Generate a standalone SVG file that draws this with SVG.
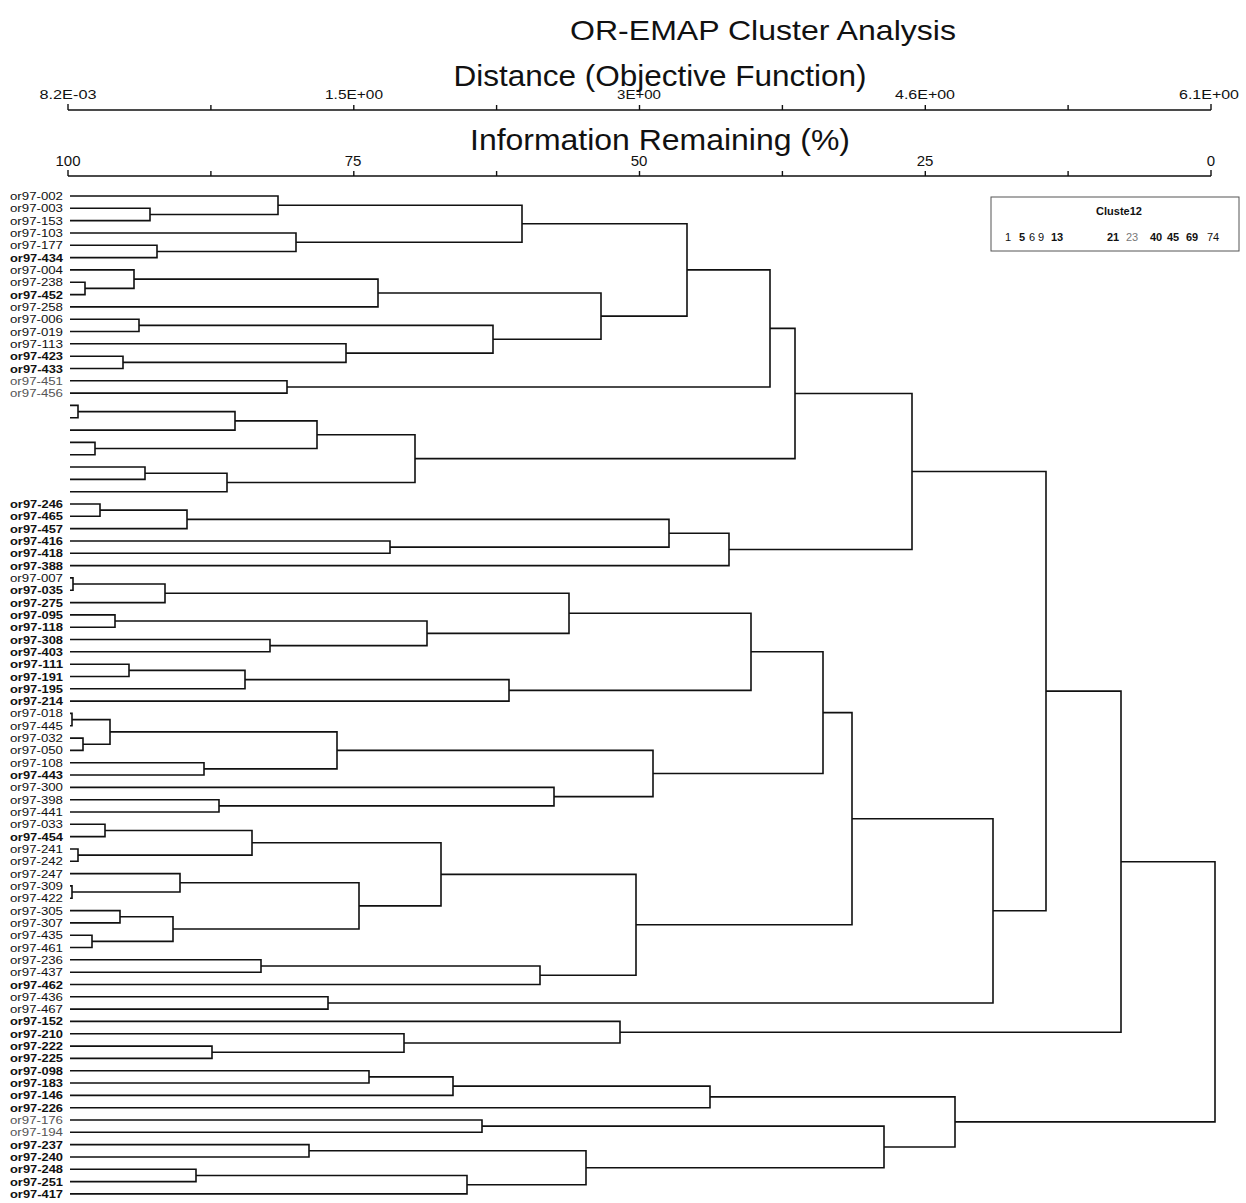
<svg xmlns="http://www.w3.org/2000/svg" width="1246" height="1203" viewBox="0 0 1246 1203">
<style>
  text { font-family: "Liberation Sans", Arial, sans-serif; fill: #111; }
  .title { font-size: 28px; text-anchor: middle; }
  .axtitle { font-size: 30px; text-anchor: middle; }
  .tick { font-size: 13px; text-anchor: middle; }
  .pct { font-size: 15px; text-anchor: middle; }
  .leaf text { font-size: 11px; text-anchor: end; }
  .leaf.b text { font-weight: bold; }
  .leaf.l text { fill: #555; }
  .axis { stroke: #111; stroke-width: 1.4; fill: none; }
  #connectors path { stroke: #111; stroke-width: 1.6; fill: none; stroke-linejoin: miter; }
  .lg { font-size: 11px; text-anchor: middle; }
  .lg.b { font-weight: bold; }
  .lg.l { fill: #777; }
</style>

<!-- headings -->
<text class="title" x="763" y="40" textLength="386" lengthAdjust="spacingAndGlyphs">OR-EMAP Cluster Analysis</text>
<text class="axtitle" x="660" y="86" textLength="413" lengthAdjust="spacingAndGlyphs">Distance (Objective Function)</text>
<text class="axtitle" x="660" y="150" textLength="380" lengthAdjust="spacingAndGlyphs">Information Remaining (%)</text>

<!-- distance scale -->
<g id="axis-distance">
  <path class="axis" d="M68 110 H1211 M68 104 V110 M210.9 105 V110 M353.8 105 V110 M496.6 105 V110 M639.5 105 V110 M782.4 105 V110 M925.3 105 V110 M1068.1 105 V110 M1211 104 V110"/>
  <text class="tick" x="68" y="99" textLength="57" lengthAdjust="spacingAndGlyphs">8.2E-03</text>
  <text class="tick" x="354" y="99" textLength="58" lengthAdjust="spacingAndGlyphs">1.5E+00</text>
  <text class="tick" x="639" y="99" textLength="44" lengthAdjust="spacingAndGlyphs">3E+00</text>
  <text class="tick" x="925" y="99" textLength="60" lengthAdjust="spacingAndGlyphs">4.6E+00</text>
  <text class="tick" x="1209" y="99" textLength="60" lengthAdjust="spacingAndGlyphs">6.1E+00</text>
</g>

<!-- information remaining scale -->
<g id="axis-information">
  <path class="axis" d="M68 176 H1211 M68 170 V176 M210.9 171 V176 M353.8 171 V176 M496.6 171 V176 M639.5 171 V176 M782.4 171 V176 M925.3 171 V176 M1068.1 171 V176 M1211 170 V176"/>
  <text class="pct" x="68" y="166">100</text>
  <text class="pct" x="353" y="166">75</text>
  <text class="pct" x="639" y="166">50</text>
  <text class="pct" x="925" y="166">25</text>
  <text class="pct" x="1211" y="166">0</text>
</g>

<!-- legend -->
<g id="legend">
  <rect x="991" y="197" width="248" height="54" fill="#fff" stroke="#555" stroke-width="1"/>
  <text class="lg b" x="1119" y="215">Cluste12</text>
  <text class="lg" x="1008" y="241">1</text>
  <text class="lg b" x="1022" y="241">5</text>
  <text class="lg" x="1032" y="241">6</text>
  <text class="lg" x="1041" y="241">9</text>
  <text class="lg b" x="1057" y="241">13</text>
  <text class="lg b" x="1113" y="241">21</text>
  <text class="lg l" x="1132" y="241">23</text>
  <text class="lg b" x="1156" y="241">40</text>
  <text class="lg b" x="1173" y="241">45</text>
  <text class="lg b" x="1192" y="241">69</text>
  <text class="lg" x="1213" y="241">74</text>
</g>

<!-- leaf labels -->
<g id="leaves">
  <g id="leaf-or97-002" class="leaf"><text x="63" y="200" textLength="53" lengthAdjust="spacingAndGlyphs">or97-002</text></g>
  <g id="leaf-or97-003" class="leaf"><text x="63" y="212.3" textLength="53" lengthAdjust="spacingAndGlyphs">or97-003</text></g>
  <g id="leaf-or97-153" class="leaf"><text x="63" y="224.6" textLength="53" lengthAdjust="spacingAndGlyphs">or97-153</text></g>
  <g id="leaf-or97-103" class="leaf"><text x="63" y="237" textLength="53" lengthAdjust="spacingAndGlyphs">or97-103</text></g>
  <g id="leaf-or97-177" class="leaf"><text x="63" y="249.3" textLength="53" lengthAdjust="spacingAndGlyphs">or97-177</text></g>
  <g id="leaf-or97-434" class="leaf b"><text x="63" y="261.6" textLength="53" lengthAdjust="spacingAndGlyphs">or97-434</text></g>
  <g id="leaf-or97-004" class="leaf"><text x="63" y="273.9" textLength="53" lengthAdjust="spacingAndGlyphs">or97-004</text></g>
  <g id="leaf-or97-238" class="leaf"><text x="63" y="286.2" textLength="53" lengthAdjust="spacingAndGlyphs">or97-238</text></g>
  <g id="leaf-or97-452" class="leaf b"><text x="63" y="298.6" textLength="53" lengthAdjust="spacingAndGlyphs">or97-452</text></g>
  <g id="leaf-or97-258" class="leaf"><text x="63" y="310.9" textLength="53" lengthAdjust="spacingAndGlyphs">or97-258</text></g>
  <g id="leaf-or97-006" class="leaf"><text x="63" y="323.2" textLength="53" lengthAdjust="spacingAndGlyphs">or97-006</text></g>
  <g id="leaf-or97-019" class="leaf"><text x="63" y="335.5" textLength="53" lengthAdjust="spacingAndGlyphs">or97-019</text></g>
  <g id="leaf-or97-113" class="leaf"><text x="63" y="347.8" textLength="53" lengthAdjust="spacingAndGlyphs">or97-113</text></g>
  <g id="leaf-or97-423" class="leaf b"><text x="63" y="360.2" textLength="53" lengthAdjust="spacingAndGlyphs">or97-423</text></g>
  <g id="leaf-or97-433" class="leaf b"><text x="63" y="372.5" textLength="53" lengthAdjust="spacingAndGlyphs">or97-433</text></g>
  <g id="leaf-or97-451" class="leaf l"><text x="63" y="384.8" textLength="53" lengthAdjust="spacingAndGlyphs">or97-451</text></g>
  <g id="leaf-or97-456" class="leaf l"><text x="63" y="397.1" textLength="53" lengthAdjust="spacingAndGlyphs">or97-456</text></g>
  <g id="leaf-or97-246" class="leaf b"><text x="63" y="508" textLength="53" lengthAdjust="spacingAndGlyphs">or97-246</text></g>
  <g id="leaf-or97-465" class="leaf b"><text x="63" y="520.3" textLength="53" lengthAdjust="spacingAndGlyphs">or97-465</text></g>
  <g id="leaf-or97-457" class="leaf b"><text x="63" y="532.6" textLength="53" lengthAdjust="spacingAndGlyphs">or97-457</text></g>
  <g id="leaf-or97-416" class="leaf b"><text x="63" y="545" textLength="53" lengthAdjust="spacingAndGlyphs">or97-416</text></g>
  <g id="leaf-or97-418" class="leaf b"><text x="63" y="557.3" textLength="53" lengthAdjust="spacingAndGlyphs">or97-418</text></g>
  <g id="leaf-or97-388" class="leaf b"><text x="63" y="569.6" textLength="53" lengthAdjust="spacingAndGlyphs">or97-388</text></g>
  <g id="leaf-or97-007" class="leaf"><text x="63" y="581.9" textLength="53" lengthAdjust="spacingAndGlyphs">or97-007</text></g>
  <g id="leaf-or97-035" class="leaf b"><text x="63" y="594.2" textLength="53" lengthAdjust="spacingAndGlyphs">or97-035</text></g>
  <g id="leaf-or97-275" class="leaf b"><text x="63" y="606.6" textLength="53" lengthAdjust="spacingAndGlyphs">or97-275</text></g>
  <g id="leaf-or97-095" class="leaf b"><text x="63" y="618.9" textLength="53" lengthAdjust="spacingAndGlyphs">or97-095</text></g>
  <g id="leaf-or97-118" class="leaf b"><text x="63" y="631.2" textLength="53" lengthAdjust="spacingAndGlyphs">or97-118</text></g>
  <g id="leaf-or97-308" class="leaf b"><text x="63" y="643.5" textLength="53" lengthAdjust="spacingAndGlyphs">or97-308</text></g>
  <g id="leaf-or97-403" class="leaf b"><text x="63" y="655.8" textLength="53" lengthAdjust="spacingAndGlyphs">or97-403</text></g>
  <g id="leaf-or97-111" class="leaf b"><text x="63" y="668.2" textLength="53" lengthAdjust="spacingAndGlyphs">or97-111</text></g>
  <g id="leaf-or97-191" class="leaf b"><text x="63" y="680.5" textLength="53" lengthAdjust="spacingAndGlyphs">or97-191</text></g>
  <g id="leaf-or97-195" class="leaf b"><text x="63" y="692.8" textLength="53" lengthAdjust="spacingAndGlyphs">or97-195</text></g>
  <g id="leaf-or97-214" class="leaf b"><text x="63" y="705.1" textLength="53" lengthAdjust="spacingAndGlyphs">or97-214</text></g>
  <g id="leaf-or97-018" class="leaf"><text x="63" y="717.4" textLength="53" lengthAdjust="spacingAndGlyphs">or97-018</text></g>
  <g id="leaf-or97-445" class="leaf"><text x="63" y="729.8" textLength="53" lengthAdjust="spacingAndGlyphs">or97-445</text></g>
  <g id="leaf-or97-032" class="leaf"><text x="63" y="742.1" textLength="53" lengthAdjust="spacingAndGlyphs">or97-032</text></g>
  <g id="leaf-or97-050" class="leaf"><text x="63" y="754.4" textLength="53" lengthAdjust="spacingAndGlyphs">or97-050</text></g>
  <g id="leaf-or97-108" class="leaf"><text x="63" y="766.7" textLength="53" lengthAdjust="spacingAndGlyphs">or97-108</text></g>
  <g id="leaf-or97-443" class="leaf b"><text x="63" y="779" textLength="53" lengthAdjust="spacingAndGlyphs">or97-443</text></g>
  <g id="leaf-or97-300" class="leaf"><text x="63" y="791.4" textLength="53" lengthAdjust="spacingAndGlyphs">or97-300</text></g>
  <g id="leaf-or97-398" class="leaf"><text x="63" y="803.7" textLength="53" lengthAdjust="spacingAndGlyphs">or97-398</text></g>
  <g id="leaf-or97-441" class="leaf"><text x="63" y="816" textLength="53" lengthAdjust="spacingAndGlyphs">or97-441</text></g>
  <g id="leaf-or97-033" class="leaf"><text x="63" y="828.3" textLength="53" lengthAdjust="spacingAndGlyphs">or97-033</text></g>
  <g id="leaf-or97-454" class="leaf b"><text x="63" y="840.6" textLength="53" lengthAdjust="spacingAndGlyphs">or97-454</text></g>
  <g id="leaf-or97-241" class="leaf"><text x="63" y="853" textLength="53" lengthAdjust="spacingAndGlyphs">or97-241</text></g>
  <g id="leaf-or97-242" class="leaf"><text x="63" y="865.3" textLength="53" lengthAdjust="spacingAndGlyphs">or97-242</text></g>
  <g id="leaf-or97-247" class="leaf"><text x="63" y="877.6" textLength="53" lengthAdjust="spacingAndGlyphs">or97-247</text></g>
  <g id="leaf-or97-309" class="leaf"><text x="63" y="889.9" textLength="53" lengthAdjust="spacingAndGlyphs">or97-309</text></g>
  <g id="leaf-or97-422" class="leaf"><text x="63" y="902.2" textLength="53" lengthAdjust="spacingAndGlyphs">or97-422</text></g>
  <g id="leaf-or97-305" class="leaf"><text x="63" y="914.6" textLength="53" lengthAdjust="spacingAndGlyphs">or97-305</text></g>
  <g id="leaf-or97-307" class="leaf"><text x="63" y="926.9" textLength="53" lengthAdjust="spacingAndGlyphs">or97-307</text></g>
  <g id="leaf-or97-435" class="leaf"><text x="63" y="939.2" textLength="53" lengthAdjust="spacingAndGlyphs">or97-435</text></g>
  <g id="leaf-or97-461" class="leaf"><text x="63" y="951.5" textLength="53" lengthAdjust="spacingAndGlyphs">or97-461</text></g>
  <g id="leaf-or97-236" class="leaf"><text x="63" y="963.8" textLength="53" lengthAdjust="spacingAndGlyphs">or97-236</text></g>
  <g id="leaf-or97-437" class="leaf"><text x="63" y="976.2" textLength="53" lengthAdjust="spacingAndGlyphs">or97-437</text></g>
  <g id="leaf-or97-462" class="leaf b"><text x="63" y="988.5" textLength="53" lengthAdjust="spacingAndGlyphs">or97-462</text></g>
  <g id="leaf-or97-436" class="leaf"><text x="63" y="1000.8" textLength="53" lengthAdjust="spacingAndGlyphs">or97-436</text></g>
  <g id="leaf-or97-467" class="leaf"><text x="63" y="1013.1" textLength="53" lengthAdjust="spacingAndGlyphs">or97-467</text></g>
  <g id="leaf-or97-152" class="leaf b"><text x="63" y="1025.4" textLength="53" lengthAdjust="spacingAndGlyphs">or97-152</text></g>
  <g id="leaf-or97-210" class="leaf b"><text x="63" y="1037.8" textLength="53" lengthAdjust="spacingAndGlyphs">or97-210</text></g>
  <g id="leaf-or97-222" class="leaf b"><text x="63" y="1050.1" textLength="53" lengthAdjust="spacingAndGlyphs">or97-222</text></g>
  <g id="leaf-or97-225" class="leaf b"><text x="63" y="1062.4" textLength="53" lengthAdjust="spacingAndGlyphs">or97-225</text></g>
  <g id="leaf-or97-098" class="leaf b"><text x="63" y="1074.7" textLength="53" lengthAdjust="spacingAndGlyphs">or97-098</text></g>
  <g id="leaf-or97-183" class="leaf b"><text x="63" y="1087" textLength="53" lengthAdjust="spacingAndGlyphs">or97-183</text></g>
  <g id="leaf-or97-146" class="leaf b"><text x="63" y="1099.4" textLength="53" lengthAdjust="spacingAndGlyphs">or97-146</text></g>
  <g id="leaf-or97-226" class="leaf b"><text x="63" y="1111.7" textLength="53" lengthAdjust="spacingAndGlyphs">or97-226</text></g>
  <g id="leaf-or97-176" class="leaf l"><text x="63" y="1124" textLength="53" lengthAdjust="spacingAndGlyphs">or97-176</text></g>
  <g id="leaf-or97-194" class="leaf l"><text x="63" y="1136.3" textLength="53" lengthAdjust="spacingAndGlyphs">or97-194</text></g>
  <g id="leaf-or97-237" class="leaf b"><text x="63" y="1148.6" textLength="53" lengthAdjust="spacingAndGlyphs">or97-237</text></g>
  <g id="leaf-or97-240" class="leaf b"><text x="63" y="1161" textLength="53" lengthAdjust="spacingAndGlyphs">or97-240</text></g>
  <g id="leaf-or97-248" class="leaf b"><text x="63" y="1173.3" textLength="53" lengthAdjust="spacingAndGlyphs">or97-248</text></g>
  <g id="leaf-or97-251" class="leaf b"><text x="63" y="1185.6" textLength="53" lengthAdjust="spacingAndGlyphs">or97-251</text></g>
  <g id="leaf-or97-417" class="leaf b"><text x="63" y="1197.9" textLength="53" lengthAdjust="spacingAndGlyphs">or97-417</text></g>
</g>

<!-- dendrogram brackets: each path joins two branches at a fusion distance -->
<g id="connectors">
  <path d="M70 208.3 H150 V220.6 H70"/>
  <path d="M70 196 H278 V214.45 H150"/>
  <path d="M70 245.3 H157 V257.6 H70"/>
  <path d="M70 233 H296 V251.45 H157"/>
  <path d="M278 205.2 H522 V242.2 H296"/>
  <path d="M70 282.2 H85 V294.6 H70"/>
  <path d="M70 269.9 H134 V288.4 H85"/>
  <path d="M134 279.15 H378 V306.9 H70"/>
  <path d="M70 319.2 H139 V331.5 H70"/>
  <path d="M70 356.2 H123 V368.5 H70"/>
  <path d="M70 343.8 H346 V362.35 H123"/>
  <path d="M139 325.35 H493 V353.1 H346"/>
  <path d="M378 293 H601 V339.2 H493"/>
  <path d="M522 223.7 H687 V316.1 H601"/>
  <path d="M70 380.8 H287 V393.1 H70"/>
  <path d="M687 269.9 H770 V386.95 H287"/>
  <path d="M70 405.4 H78 V417.8 H70"/>
  <path d="M78 411.6 H235 V430.1 H70"/>
  <path d="M70 442.4 H95 V454.7 H70"/>
  <path d="M235 420.85 H317 V448.55 H95"/>
  <path d="M70 467 H145 V479.4 H70"/>
  <path d="M145 473.2 H227 V491.7 H70"/>
  <path d="M317 434.7 H415 V482.45 H227"/>
  <path d="M770 328.4 H795 V458.6 H415"/>
  <path d="M70 504 H100 V516.3 H70"/>
  <path d="M100 510.15 H187 V528.6 H70"/>
  <path d="M70 541 H390 V553.3 H70"/>
  <path d="M187 519.4 H669 V547.15 H390"/>
  <path d="M669 533.3 H729 V565.6 H70"/>
  <path d="M795 393.5 H912 V549.45 H729"/>
  <path d="M70 577.9 H73 V590.2 H70"/>
  <path d="M73 584.05 H165 V602.6 H70"/>
  <path d="M70 614.9 H115 V627.2 H70"/>
  <path d="M70 639.5 H270 V651.8 H70"/>
  <path d="M115 621.05 H427 V645.65 H270"/>
  <path d="M165 593.3 H569 V633.35 H427"/>
  <path d="M70 664.2 H129 V676.5 H70"/>
  <path d="M129 670.35 H245 V688.8 H70"/>
  <path d="M245 679.6 H509 V701.1 H70"/>
  <path d="M569 613.3 H751 V690.35 H509"/>
  <path d="M70 713.4 H72 V725.8 H70"/>
  <path d="M70 738.1 H83 V750.4 H70"/>
  <path d="M72 719.6 H110 V744.25 H83"/>
  <path d="M70 762.7 H204 V775 H70"/>
  <path d="M110 731.9 H337 V768.85 H204"/>
  <path d="M70 799.7 H219 V812 H70"/>
  <path d="M70 787.4 H554 V805.85 H219"/>
  <path d="M337 750.4 H653 V796.6 H554"/>
  <path d="M751 651.8 H823 V773.5 H653"/>
  <path d="M70 824.3 H105 V836.6 H70"/>
  <path d="M70 849 H78 V861.3 H70"/>
  <path d="M105 830.45 H252 V855.15 H78"/>
  <path d="M70 885.9 H72 V898.2 H70"/>
  <path d="M70 873.6 H180 V892.05 H72"/>
  <path d="M70 910.6 H120 V922.9 H70"/>
  <path d="M70 935.2 H92 V947.5 H70"/>
  <path d="M120 916.75 H173 V941.35 H92"/>
  <path d="M180 882.8 H359 V929.05 H173"/>
  <path d="M252 842.8 H441 V905.9 H359"/>
  <path d="M70 959.8 H261 V972.2 H70"/>
  <path d="M261 966 H540 V984.5 H70"/>
  <path d="M441 874.35 H636 V975.25 H540"/>
  <path d="M823 712.65 H852 V924.8 H636"/>
  <path d="M70 996.8 H328 V1009.1 H70"/>
  <path d="M852 818.7 H993 V1002.95 H328"/>
  <path d="M912 471.5 H1046 V910.8 H993"/>
  <path d="M70 1046.1 H212 V1058.4 H70"/>
  <path d="M70 1033.8 H404 V1052.25 H212"/>
  <path d="M70 1021.4 H620 V1043 H404"/>
  <path d="M1046 691.15 H1121 V1032.2 H620"/>
  <path d="M70 1070.7 H369 V1083 H70"/>
  <path d="M369 1076.85 H453 V1095.4 H70"/>
  <path d="M453 1086.1 H710 V1107.7 H70"/>
  <path d="M70 1120 H482 V1132.3 H70"/>
  <path d="M70 1144.6 H309 V1157 H70"/>
  <path d="M70 1169.3 H196 V1181.6 H70"/>
  <path d="M196 1175.45 H467 V1193.9 H70"/>
  <path d="M309 1150.8 H586 V1184.7 H467"/>
  <path d="M482 1126.15 H884 V1167.75 H586"/>
  <path d="M710 1096.9 H955 V1146.95 H884"/>
  <path d="M1121 861.7 H1215 V1121.9 H955"/>
</g>
</svg>
